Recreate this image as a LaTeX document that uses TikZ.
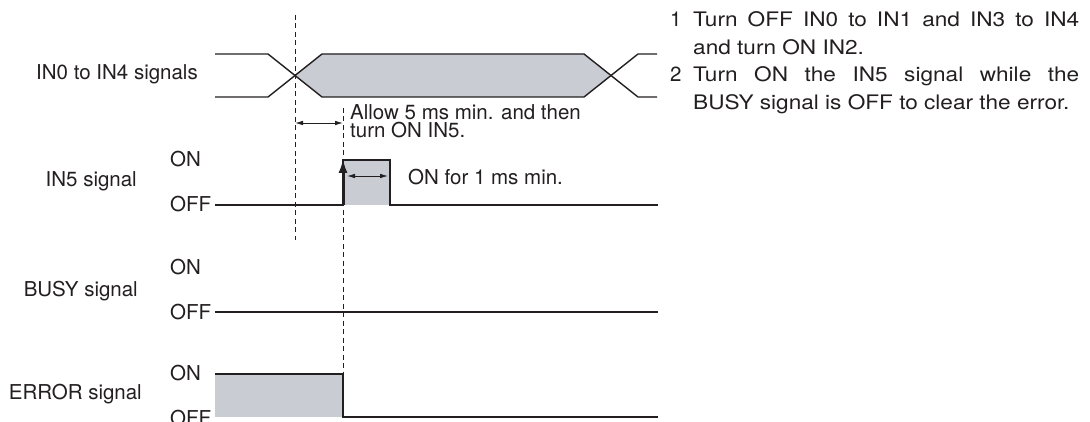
\documentclass[tikz,border=0pt]{standalone}
\usepackage{fontspec}
\setmainfont{TeX Gyre Heros}
\newfontfamily\notefont[FakeStretch=1.13]{TeX Gyre Heros}
\usetikzlibrary{arrows.meta}
\definecolor{wavegray}{HTML}{C9CCD3}
\definecolor{ink}{HTML}{231F20}

\begin{document}
\begin{tikzpicture}[x=1pt,y=-1pt,
  txt/.style={inner sep=0pt,font=\fontsize{20.5}{24}\selectfont,text=ink},
  wave/.style={draw=ink,line width=1.4pt},
  guide/.style={draw=ink,line width=0.8pt,dash pattern=on 5pt off 3.5pt},
  dim/.style={draw=ink,line width=0.8pt,{Latex[length=8pt,width=4.5pt]}-{Latex[length=8pt,width=4.5pt]}}]
  \useasboundingbox (0,0) rectangle (1090,422);

  % signal names
  \node[txt,anchor=base east] (nin) at (198,80) {IN0 to IN4 signals};
  \node[txt,anchor=base east] (nin5) at (137,187) {IN5 signal};
  \node[txt,anchor=base east] (nbusy) at (138,297) {BUSY signal};
  \node[txt,anchor=base east] (nerr) at (142,399) {ERROR signal};

  % ON / OFF levels
  \node[txt,anchor=base west] (on5) at (170,167) {ON};
  \node[txt,anchor=base west] (off5) at (170,212) {OFF};
  \node[txt,anchor=base west] (onb) at (170,274) {ON};
  \node[txt,anchor=base west] (offb) at (170,319) {OFF};
  \node[txt,anchor=base west] (one) at (170,380) {ON};
  \node[txt,anchor=base west] (offe) at (170,425) {OFF};

  % IN0 to IN4
  \fill[wavegray] (295,75.5) -- (322,54) -- (584,54) -- (611,75.5) -- (584,97) -- (322,97) -- cycle;
  \draw[wave] (215,54) -- (268,54) -- (322,97) -- (584,97) -- (638,54) -- (657,54);
  \draw[wave] (215,97) -- (268,97) -- (322,54) -- (584,54) -- (638,97) -- (657,97);

  % IN5
  \fill[wavegray] (343,160) rectangle (390,205);
  \draw[wave] (215,205) -- (343,205) -- (343,160) -- (390,160) -- (390,205) -- (658,205);
  \draw[ink,line width=3pt,-{Latex[length=15pt,width=9pt]}] (343,205) -- (343,158);

  % BUSY
  \draw[wave] (215,312) -- (658,312);

  % ERROR
  \fill[wavegray] (215,374) rectangle (343,417);
  \draw[wave] (215,374) -- (343,374) -- (343,417) -- (658,417);

  % timing
  \draw[guide] (295,15) -- (295,240);
  \draw[guide] (343,108) -- (343,374);
  \draw[dim] (295,123) -- (343,123);
  \draw[dim] (347,176) -- (388,176);
  \node[txt,anchor=base west,align=left,font=\fontsize{20.5}{18.5}\selectfont] (allow) at (350,138) {Allow 5 ms min. and then\\turn ON IN5.};
  \node[txt,anchor=base west] (onmin) at (408,185) {ON for 1 ms min.};

  % notes
  \node[txt,anchor=base west] (k1) at (670,27) {1};
  \node[txt,anchor=base west] (k2) at (670,82) {2};
  \node[txt,anchor=base west,text width=386pt,align=justify,font=\notefont\fontsize{20}{27.5}\selectfont] (note1) at (693,27)
    {Turn OFF IN0 to IN1 and IN3 to IN4\linebreak and turn ON IN2.};
  \node[txt,anchor=base west,text width=386pt,align=justify,font=\notefont\fontsize{20}{27.5}\selectfont] (note2) at (693,82)
    {Turn ON the IN5 signal while the\linebreak BUSY signal is OFF to clear the error.};
\end{tikzpicture}
\end{document}
